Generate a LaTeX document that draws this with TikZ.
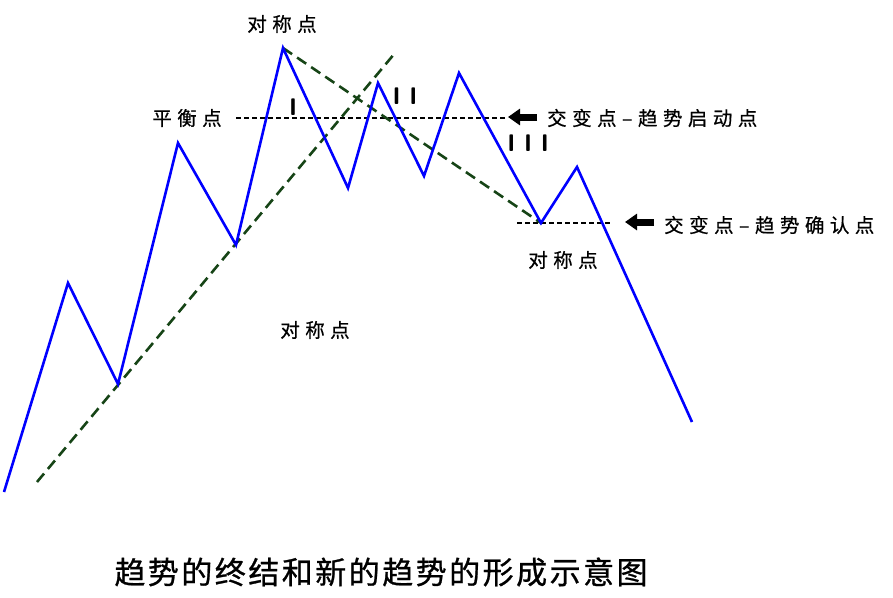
\documentclass[tikz,border=0pt]{standalone}
\usepackage{fontspec}
\usepackage{xcolor}
\newfontfamily\cjk[LetterSpace=28, FakeBold=0.6]{Noto Sans CJK SC}
\newfontfamily\cjktitle[LetterSpace=8, FakeBold=0.8]{Noto Sans CJK SC}
\usetikzlibrary{arrows.meta}
\definecolor{trendgreen}{RGB}{22,68,22}

\begin{document}
\begin{tikzpicture}[x=1pt, y=-1pt,
	wave/.style={blue, line width=2.6pt, line join=miter},
	trend/.style={trendgreen, line width=2.6pt, dash pattern=on 11pt off 6pt},
	level/.style={black, line width=1.3pt, dash pattern=on 5pt off 3pt},
	pointer/.style={-{Triangle[length=12pt, width=16pt]}, line width=7pt},
	lbl/.style={font=\cjk\fontsize{19.5}{20}\selectfont, inner sep=0pt},
	numeral/.style={font=\sffamily\bfseries\fontsize{24}{24}\selectfont, inner sep=0pt}]
	\useasboundingbox (0,0) rectangle (893,597);
	% Turning points of the price line
	\coordinate (p0) at (4,492);
	\coordinate (p1) at (68,283);
	\coordinate (p2) at (118,384);
	\coordinate (p3) at (178,143);
	\coordinate (p4) at (236,245);
	\coordinate (p5) at (283,48);
	\coordinate (p6) at (348,188);
	\coordinate (p7) at (378,83);
	\coordinate (p8) at (424,176);
	\coordinate (p9) at (459,73);
	\coordinate (p10) at (541,223);
	\coordinate (p11) at (577,167);
	\coordinate (p12) at (692,422);
	% Trend lines and levels
	\coordinate (up0) at (37,482);
	\coordinate (up1) at (395,53);
	\coordinate (lvA0) at (236,118);
	\coordinate (lvA1) at (507,118);
	\coordinate (lvB0) at (517,223);
	\coordinate (lvB1) at (610,223);
	\coordinate (arA0) at (537,117);
	\coordinate (arA1) at (508,117);
	\coordinate (arB0) at (654,222);
	\coordinate (arB1) at (625,222);
	
	\draw[level] (lvA0) -- (lvA1);
	\draw[level] (lvB0) -- (lvB1);
	\draw[trend] (up0) -- (up1);
	\draw[trend] (p5) -- (p10);
	\draw[wave] (p0) -- (p1) -- (p2) -- (p3) -- (p4) -- (p5) -- (p6) -- (p7) -- (p8) -- (p9) -- (p10) -- (p11) -- (p12);
	\draw[pointer] (arA0) -- (arA1);
	\draw[pointer] (arB0) -- (arB1);
	
	% Labels
	\node[lbl] (symTop) at (282,24) {对称点};
	\node[lbl] (balance) at (187,118) {平衡点};
	\node[lbl] (symMid) at (315,330) {对称点};
	\node[lbl] (symLow) at (563,260) {对称点};
	\node[lbl, anchor=west] (start) at (547,118) {交变点–趋势启动点};
	\node[lbl, anchor=west] (confirm) at (664,225) {交变点–趋势确认点};
	\node[numeral] (n1) at (293,107) {I};
	\node[numeral] (n2) at (405,96) {I I};
	\node[numeral] (n3) at (528,143) {I I I};
	\node[font=\cjktitle\fontsize{31}{31}\selectfont, inner sep=0pt] (title) at (381,572) {趋势的终结和新的趋势的形成示意图};
\end{tikzpicture}
\end{document}
